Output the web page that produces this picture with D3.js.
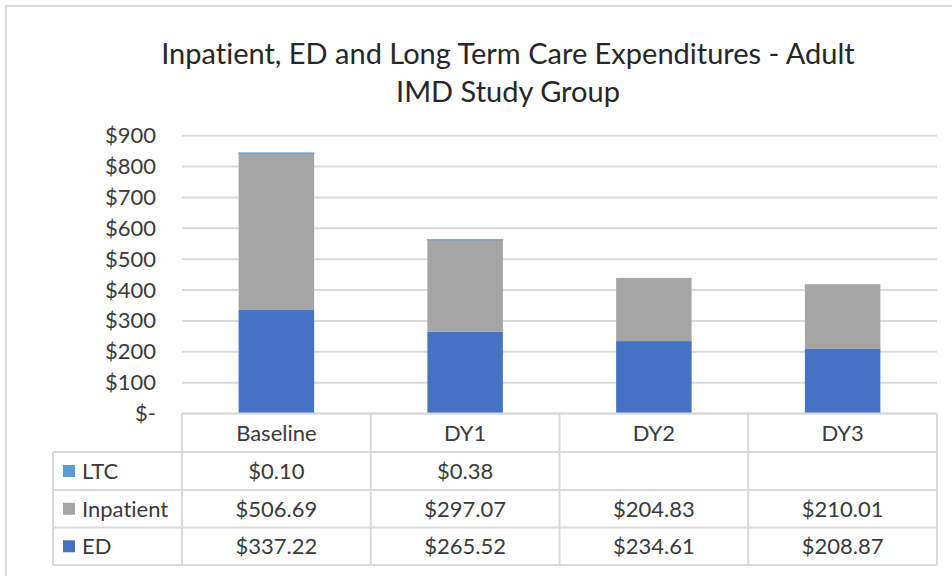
<!DOCTYPE html>
<html>
<head>
<meta charset="utf-8">
<script src="https://cdn.jsdelivr.net/npm/d3@7"></script>
<style>
  html, body { margin: 0; padding: 0; background: #fff; }
  svg { display: block; font-family: Lato, "Open Sans", sans-serif; font-variant-ligatures: none; }
</style>
</head>
<body>
<svg id="chart" width="952" height="576"></svg>
<script>
// Expenditure data per study period (stacked bottom to top: ED, Inpatient, LTC)
const categories = ["Baseline", "DY1", "DY2", "DY3"];
const edValues = [337.22, 265.52, 234.61, 208.87];
const inpatientValues = [506.69, 297.07, 204.83, 210.01];
const ltcValues = [0.10, 0.38, null, null];
const yTicks = [0, 100, 200, 300, 400, 500, 600, 700, 800, 900];
const titleLines = ["Inpatient, ED and Long Term Care Expenditures - Adult", "IMD Study Group"];

const seriesKeys = ["ED", "Inpatient", "LTC"];
const seriesValues = { ED: edValues, Inpatient: inpatientValues, LTC: ltcValues };
const colors = { ED: "#4472C4", Inpatient: "#A5A5A5", LTC: "#5B9BD5" };
const tableRows = ["LTC", "Inpatient", "ED"];

const rows = categories.map((c, i) => {
  const r = { category: c };
  seriesKeys.forEach(k => { r[k] = seriesValues[k][i] ?? 0; });
  return r;
});

const svg = d3.select("#chart");
const textColor = "#3a3a3a";
const lineColor = "#D9D9D9";
const fontSize = 22;

// Chart frame
svg.append("rect")
  .attr("x", 6).attr("y", 6).attr("width", 1000).attr("height", 700)
  .attr("fill", "none").attr("stroke", lineColor).attr("stroke-width", 2);

// Title
svg.append("g").selectAll("text").data(titleLines).join("text")
  .attr("x", 508).attr("y", (d, i) => 64 + i * 38)
  .attr("text-anchor", "middle")
  .attr("font-size", 29).attr("fill", "#262626")
  .text(d => d);

const plotLeft = 182, plotRight = 937;
const x = d3.scaleBand().domain(categories).range([plotLeft, plotRight])
  .paddingInner(0.6).paddingOuter(0.3);
const col = d3.scaleBand().domain(categories).range([plotLeft, plotRight]);
const y = d3.scaleLinear().domain([0, 900]).range([413.5, 135.7]);

// Gridlines
svg.append("g").selectAll("line").data(yTicks).join("line")
  .attr("x1", plotLeft).attr("x2", plotRight)
  .attr("y1", d => y(d)).attr("y2", d => y(d))
  .attr("stroke", lineColor).attr("stroke-width", 2);

// Y axis labels
const yAxis = d3.axisLeft(y).tickValues(yTicks).tickSize(0).tickPadding(0)
  .tickFormat(d => d === 0 ? "$-" : "$" + d);
const yg = svg.append("g").attr("transform", `translate(156,0)`).call(yAxis);
yg.select(".domain").remove();
yg.selectAll("text").attr("font-size", fontSize).attr("fill", textColor)
  .attr("font-family", "Lato, 'Open Sans', sans-serif");

// Stacked bars
const stacked = d3.stack().keys(seriesKeys)(rows);
svg.append("g").selectAll("g").data(stacked).join("g")
  .attr("fill", d => colors[d.key])
  .attr("stroke", d => d.key === "LTC" ? colors[d.key] : "none")
  .attr("stroke-width", 1)
  .selectAll("rect").data(d => d.filter(s => s[1] - s[0] > 0)).join("rect")
  .attr("x", d => x(d.data.category))
  .attr("width", x.bandwidth())
  .attr("y", d => y(d[1]))
  .attr("height", d => y(d[0]) - y(d[1]));

// Data table
const rowTop = [413.5, 452, 490, 527.5, 565];
const labelLeft = 53;
const table = svg.append("g");
function hline(x1, x2, yy) {
  table.append("line").attr("x1", x1).attr("x2", x2).attr("y1", yy).attr("y2", yy)
    .attr("stroke", lineColor).attr("stroke-width", 2);
}
function vline(xx, y1, y2) {
  table.append("line").attr("x1", xx).attr("x2", xx).attr("y1", y1).attr("y2", y2)
    .attr("stroke", lineColor).attr("stroke-width", 2);
}
hline(plotLeft, plotRight, rowTop[0]);
for (let i = 1; i < rowTop.length; i++) hline(labelLeft, plotRight, rowTop[i]);
vline(labelLeft, rowTop[1], rowTop[4]);
categories.forEach(c => vline(col(c), rowTop[0], rowTop[4]));
vline(plotRight, rowTop[0], rowTop[4]);

// Header labels
table.selectAll("text.hdr").data(categories).join("text").attr("class", "hdr")
  .attr("x", d => col(d) + col.bandwidth() / 2)
  .attr("y", (rowTop[0] + rowTop[1]) / 2)
  .attr("dy", "0.36em").attr("text-anchor", "middle")
  .attr("font-size", fontSize).attr("fill", textColor)
  .text(d => d);

// Series rows with legend keys and values
tableRows.forEach((key, ri) => {
  const cy = (rowTop[ri + 1] + rowTop[ri + 2]) / 2;
  table.append("rect").attr("x", 63).attr("y", cy - 6).attr("width", 12).attr("height", 12)
    .attr("fill", colors[key]);
  table.append("text").attr("x", 82).attr("y", cy).attr("dy", "0.36em")
    .attr("font-size", fontSize).attr("fill", textColor).text(key);
  table.selectAll(null).data(categories.map((c, i) => ({ c, v: seriesValues[key][i] })))
    .join("text")
    .attr("x", d => col(d.c) + col.bandwidth() / 2)
    .attr("y", cy).attr("dy", "0.36em").attr("text-anchor", "middle")
    .attr("font-size", fontSize).attr("fill", textColor)
    .text(d => d.v == null ? "" : "$" + d.v.toFixed(2));
});
</script>
</body>
</html>
